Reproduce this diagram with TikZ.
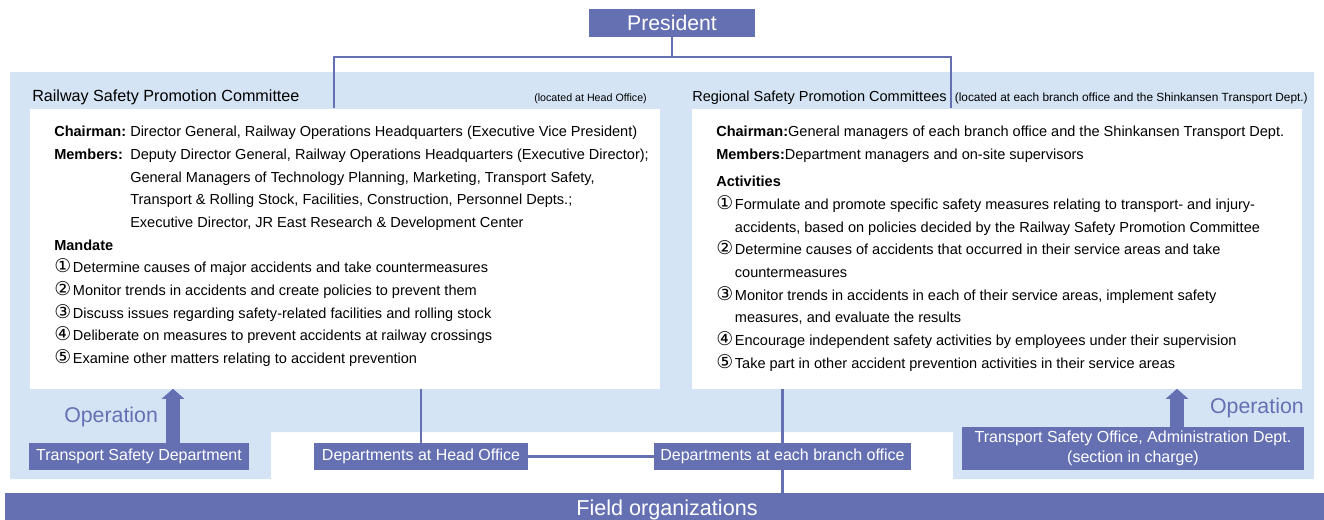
\documentclass[tikz,border=0pt]{standalone}
\usepackage{fontspec}
\setmainfont{Liberation Sans}
\newfontfamily\circfont{DejaVu Sans}[Scale=1.3]
\usetikzlibrary{positioning,arrows.meta}
\definecolor{orgblue}{HTML}{6570B2}
\definecolor{paleblue}{HTML}{D5E4F4}
\newcommand{\headlbl}[1]{\makebox[57pt][l]{\textbf{#1}}}
\newcommand{\circno}[1]{\makebox[14pt][l]{\circfont #1}}
\tikzset{
  sized/.style 2 args={minimum width=#1*0.75pt,minimum height=#2*0.75pt},
  orgbox/.style={fill=orgblue,text=white,inner sep=0pt,align=center,
    font=\fontsize{12}{15}\selectfont},
  whitebox/.style={fill=white,inner sep=0pt},
  link/.style={draw=orgblue,line width=1.6pt},
  oparrow/.style={draw=orgblue,line width=10.5pt,
    -{Triangle[width=16.5pt,length=7.5pt]}},
  optext/.style={text=orgblue,inner sep=0pt,font=\fontsize{16}{19}\selectfont},
  body/.style={anchor=north west,inner sep=0pt,align=left,
    font=\fontsize{10.9}{17}\selectfont},
  title/.style={anchor=base west,inner sep=0pt},
  note/.style={anchor=base east,inner sep=0pt}
}
\begin{document}
\begin{tikzpicture}[x=0.75pt,y=-0.75pt]
  \useasboundingbox (0,0) rectangle (1324,519);

  % pale background of both committees
  \fill[paleblue] (10,72) -- (1314,72) -- (1314,479) -- (953,479) -- (953,432)
    -- (271,432) -- (271,479) -- (10,479) -- cycle;

  \node[orgbox,sized={166}{28},font=\fontsize{15.9}{19}\selectfont] (pres) at (672,23) {President};

  \node[whitebox,sized={630}{280}] (rspc) at (345,248.5) {};
  \node[whitebox,sized={610}{280}] (regc) at (997,248.5) {};

  \node[title,font=\fontsize{12.1}{14}\selectfont] (rspctitle) at (32,101) {Railway Safety Promotion Committee};
  \node[note,font=\fontsize{8}{10}\selectfont] (rspcnote) at (647,101) {(located at Head Office)};
  \node[title,font=\fontsize{10.9}{13}\selectfont] (regctitle) at (692,101) {Regional Safety Promotion Committees};
  \node[note,font=\fontsize{8.9}{10}\selectfont] (regcnote) at (1308,101) {(located at each branch office and the Shinkansen Transport Dept.)};

  \node[body] (rspctext) at (54,126) {%
    \headlbl{Chairman:}Director General, Railway Operations Headquarters (Executive Vice President)\\
    \headlbl{Members:}Deputy Director General, Railway Operations Headquarters (Executive Director);\\
    \hspace*{57pt}General Managers of Technology Planning, Marketing, Transport Safety,\\
    \hspace*{57pt}Transport \& Rolling Stock, Facilities, Construction, Personnel Depts.;\\
    \hspace*{57pt}Executive Director, JR East Research \& Development Center\\
    \textbf{Mandate}\\
    \circno{①}Determine causes of major accidents and take countermeasures\\
    \circno{②}Monitor trends in accidents and create policies to prevent them\\
    \circno{③}Discuss issues regarding safety-related facilities and rolling stock\\
    \circno{④}Deliberate on measures to prevent accidents at railway crossings\\
    \circno{⑤}Examine other matters relating to accident prevention};

  \node[body] (regctext) at (716,126) {%
    \textbf{Chairman:}General managers of each branch office and the Shinkansen Transport Dept.\\
    \textbf{Members:}Department managers and on-site supervisors\\[3.5pt]
    \textbf{Activities}\\
    \circno{①}Formulate and promote specific safety measures relating to transport- and injury-\\
    \hspace*{14pt}accidents, based on policies decided by the Railway Safety Promotion Committee\\
    \circno{②}Determine causes of accidents that occurred in their service areas and take\\
    \hspace*{14pt}countermeasures\\
    \circno{③}Monitor trends in accidents in each of their service areas, implement safety\\
    \hspace*{14pt}measures, and evaluate the results\\
    \circno{④}Encourage independent safety activities by employees under their supervision\\
    \circno{⑤}Take part in other accident prevention activities in their service areas};

  \node[orgbox,sized={220}{27}] (tsdept) at (139,456.5) {Transport Safety Department};
  \node[orgbox,sized={214}{27}] (hodept) at (421,456.5) {Departments at Head Office};
  \node[orgbox,sized={257}{27}] (brdept) at (782.5,456.5) {Departments at each branch office};
  \node[orgbox,sized={342}{43}] (tsoffice) at (1133,448.5) {Transport Safety Office, Administration Dept.\\(section in charge)};
  \node[orgbox,sized={1324}{34},font=\fontsize{16.2}{19}\selectfont] (field) at (667,510) {Field organizations};

  \node[optext,anchor=west] (opleft) at (64,417) {Operation};
  \node[optext,anchor=east] (opright) at (1304,408) {Operation};

  \coordinate (split) at (672,57);
  \draw[link] (pres.south) -- (split);
  \draw[link] (split) -| (rspc.north -| 334,0);
  \draw[link] (split) -| (regc.north -| 951,0);

  \draw[link] (hodept.north) -- (hodept.north |- rspc.south);
  \draw[link] (hodept) -- (brdept);
  \draw[link] (brdept.north) -- (brdept.north |- regc.south);
  \draw[link] (brdept.south) -- (brdept.south |- field.north);

  \draw[oparrow] (tsdept.north -| 173,0) -- (rspc.south -| 173,0);
  \draw[oparrow] (tsoffice.north -| 1177,0) -- (regc.south -| 1177,0);
\end{tikzpicture}
\end{document}
